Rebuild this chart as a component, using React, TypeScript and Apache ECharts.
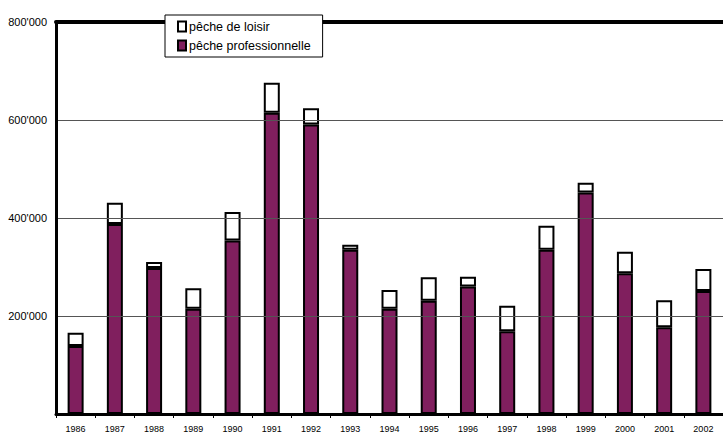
import React, { useEffect, useRef } from "react";
import * as echarts from "echarts";

const years = ["1986","1987","1988","1989","1990","1991","1992","1993","1994","1995","1996","1997","1998","1999","2000","2001","2002"];
const professionnelle = [139000,388000,298000,215000,354000,615000,591000,335000,215000,231000,260000,169000,335000,452000,287000,177000,251000];
const loisir = [27000,43000,12000,41500,58000,61000,33000,10500,38000,48000,20000,52000,49000,20000,44000,55000,45000];
const yTicks = [0, 200000, 400000, 600000, 800000];

const fmt = (v: number) => {
  if (v === 0) return "";
  const s = String(Math.round(v));
  return s.replace(/\B(?=(\d{3})+(?!\d))/g, "'");
};

export default function App() {
  const ref = useRef<HTMLDivElement>(null);
  useEffect(() => {
    if (!ref.current) return;
    const chart = echarts.init(ref.current, null, { renderer: "svg" });
    chart.setOption({
      animation: false,
      backgroundColor: "#ffffff",
      textStyle: { fontFamily: "Arial, 'Liberation Sans', sans-serif" },
      grid: { left: 56, top: 22, width: 672, height: 392 },
      legend: {
        data: ["pêche de loisir", "pêche professionnelle"],
        orient: "vertical",
        left: 165,
        top: 15,
        padding: [5, 12, 5, 12],
        itemGap: 6,
        itemWidth: 8,
        itemHeight: 10,
        backgroundColor: "#ffffff",
        borderColor: "#000000",
        borderWidth: 1,
        borderRadius: 0,
        z: 10,
        textStyle: { fontSize: 12.5, color: "#000", padding: [0, 0, 0, -2] },
        icon: "rect",
      },
      xAxis: [
        {
          type: "category",
          data: years,
          boundaryGap: true,
          axisLine: { show: true, lineStyle: { color: "#000", width: 3 } },
          axisTick: { show: true, interval: 0, length: 4, lineStyle: { color: "#000", width: 1 } },
          axisLabel: { interval: 0, fontSize: 9, color: "#000", margin: 10 },
          splitLine: { show: false },
          z: 5,
        },
        {
          type: "category",
          data: years,
          position: "top",
          axisLine: { show: true, lineStyle: { color: "#000", width: 4 } },
          axisTick: { show: false },
          axisLabel: { show: false },
          splitLine: { show: false },
          z: 5,
        },
      ],
      yAxis: {
        type: "value",
        min: yTicks[0],
        max: yTicks[yTicks.length - 1],
        interval: 200000,
        axisLine: { show: true, lineStyle: { color: "#000", width: 3 } },
        axisTick: { show: false },
        axisLabel: { formatter: fmt, fontSize: 11, color: "#000", margin: 9 },
        splitLine: { show: true, lineStyle: { color: "#555", width: 1 } },
        z: 5,
      },
      series: [
        {
          name: "pêche professionnelle",
          type: "bar",
          stack: "total",
          data: professionnelle,
          barWidth: 16,
          itemStyle: { color: "#801F5E", borderColor: "#000", borderWidth: 2 },
        },
        {
          name: "pêche de loisir",
          type: "bar",
          stack: "total",
          data: loisir,
          barWidth: 16,
          itemStyle: { color: "#ffffff", borderColor: "#000", borderWidth: 2 },
        },
      ],
    });
    return () => chart.dispose();
  }, []);
  return (
    <div
      ref={ref}
      style={{ position: "fixed", left: 0, top: 0, width: 723, height: 434 }}
    />
  );
}
